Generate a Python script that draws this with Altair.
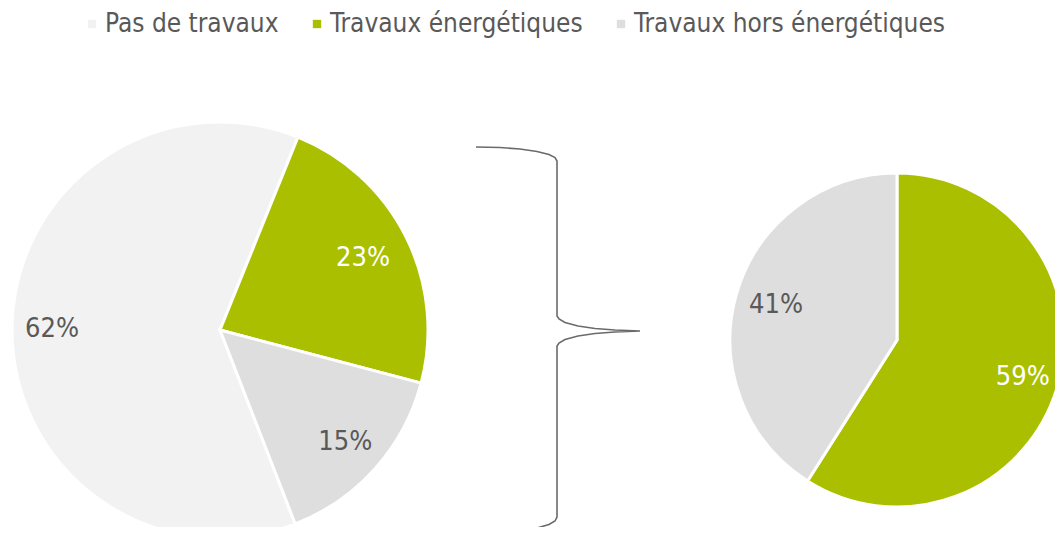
import math
import altair as alt
import pandas as pd

# ---- data ----
categories = ["Pas de travaux", "Travaux énergétiques", "Travaux hors énergétiques"]
colors = ["#f2f2f2", "#a9bf00", "#dedede"]
left_values = [62, 23, 15]
right_categories = ["Travaux énergétiques", "Travaux hors énergétiques"]
right_values = [59, 41]

# brace annotation path (page pixels)
brace_x = [476, 500, 520, 537, 549, 555, 557, 557, 559, 565, 578, 595, 615, 640,
           615, 595, 578, 565, 559, 557, 557, 555, 549, 537, 520, 500, 476]
brace_y = [147, 147.5, 149, 151.5, 154.5, 157.5, 161, 316, 319, 322.5, 326, 328.5, 330, 331,
           332, 333.5, 336, 339.5, 343, 346, 517, 521, 524.5, 528, 531, 532.5, 533]

W, H = 1047, 519
FONT = "DejaVu Sans Condensed"
TXT = "#595959"
GREEN_CAT = "Travaux énergétiques"

left = pd.DataFrame({"cat": categories, "value": left_values,
                     "ordre": list(range(len(categories)))})
left["label"] = [f"{v}%" for v in left_values]
right = pd.DataFrame({"cat": right_categories, "value": right_values,
                      "ordre": list(range(len(right_categories)))})
right["label"] = [f"{v}%" for v in right_values]
brace = pd.DataFrame({"x": brace_x, "y": brace_y, "i": list(range(len(brace_x)))})

color_scale = alt.Scale(domain=categories, range=colors)
legend = alt.Legend(orient="none", legendX=71, legendY=3, direction="horizontal",
                    title=None, symbolType="square", symbolSize=70,
                    symbolStrokeWidth=0, labelFontSize=26, labelColor=TXT,
                    labelFont=FONT, columnPadding=25, labelOffset=0,
                    labelLimit=600)

def pie(df, cx, cy, r, r_green, r_other, start_deg, show_legend):
    start = math.radians(start_deg)
    tscale = alt.Scale(domain=[0, sum(df["value"])], range=[start, start + 2 * math.pi])
    arcs = alt.Chart(df).mark_arc(outerRadius=r, stroke="white", strokeWidth=3).encode(
        theta=alt.Theta("value:Q", stack=True, scale=tscale),
        color=alt.Color("cat:N", scale=color_scale,
                        legend=legend if show_legend else None),
        order=alt.Order("ordre:Q"),
        x=alt.value(cx), y=alt.value(cy),
    )
    base = alt.Chart(df).transform_window(
        cum="sum(value)", sort=[alt.SortField("ordre")], frame=[None, 0]
    ).transform_calculate(mid="datum.cum - datum.value / 2")
    layers = [arcs]
    for green, rad, col in [(True, r_green, "white"), (False, r_other, TXT)]:
        test = (alt.datum.cat == GREEN_CAT) if green else (alt.datum.cat != GREEN_CAT)
        layers.append(
            base.transform_filter(test).mark_text(
                font=FONT, fontSize=27, radius=rad, color=col
            ).encode(
                theta=alt.Theta("mid:Q", stack=None, scale=tscale),
                text="label:N",
                x=alt.value(cx), y=alt.value(cy),
            )
        )
    return alt.layer(*layers).resolve_scale(theta="shared")

left_pie = pie(left, 212, 322, 208, 160, 168, 158.8, True)
right_pie = pie(right, 889, 332, 167, 131, 126, 0, False)

brace_line = alt.Chart(brace).mark_line(color="#6b6b6b", strokeWidth=1.6).encode(
    x=alt.X("x:Q", scale=alt.Scale(domain=[8, 8 + W], range=[0, W]), axis=None),
    y=alt.Y("y:Q", scale=alt.Scale(domain=[8, 8 + H], range=[0, H]), axis=None),
    order="i:Q",
)

chart = alt.layer(left_pie, right_pie, brace_line).resolve_scale(
    theta="independent", x="independent", y="independent"
).properties(
    width=W, height=H, padding=0, autosize=alt.AutoSizeParams(type="none"),
    background="white",
).configure_view(stroke=None)

chart.save("out.html", embed_options={"renderer": "svg", "actions": False})
